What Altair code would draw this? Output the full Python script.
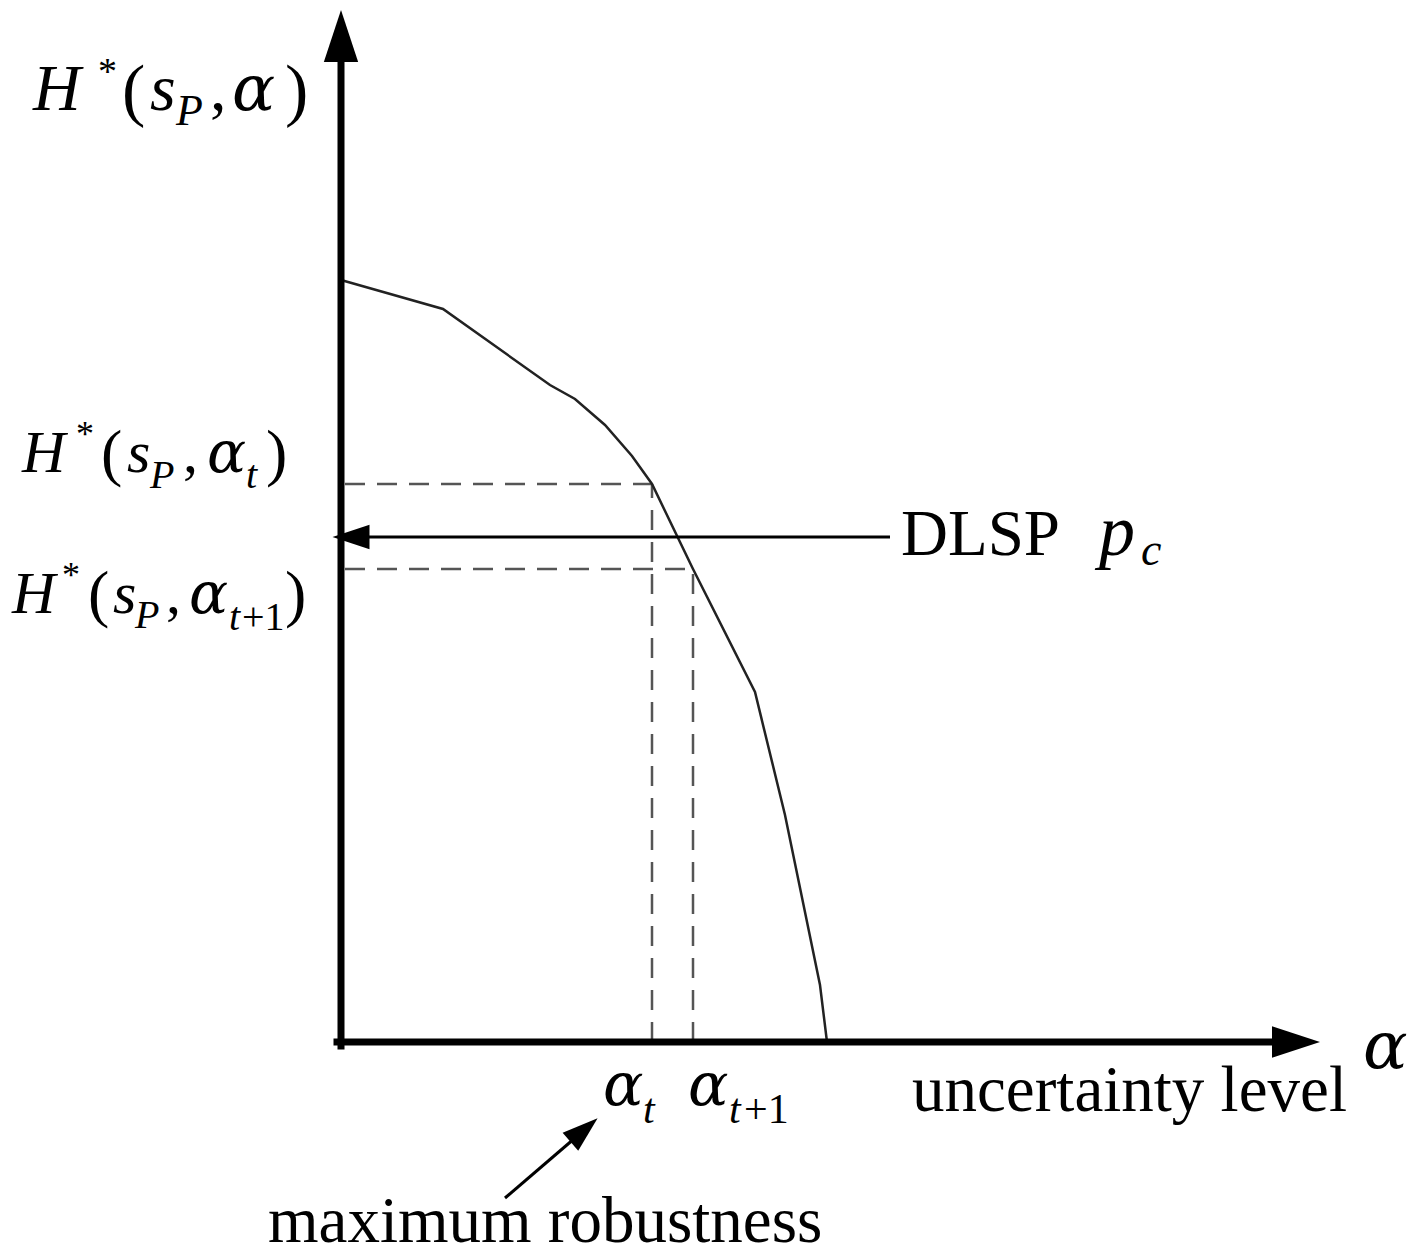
import altair as alt
import pandas as pd

# Robustness curve H*(s_P, alpha) against the uncertainty level alpha
alpha_vals = [0, 102, 209, 234, 264, 291, 311, 352, 414, 444, 479, 486]
h_vals = [762, 733, 657, 643, 617, 586, 558, 473, 350, 227, 57, 0]

# Marked levels
alpha_t = alpha_vals[6]
alpha_t1 = alpha_vals[7]
h_t = h_vals[6]
h_t1 = h_vals[7]
p_c = 505  # DLSP threshold

# Extent of the drawn axes (data units)
x_axis_end = 979
y_axis_end = 1032

X_DOM = [-341, 1083]
Y_DOM = [-214, 1042]
W, H = 1424, 1256

xs = alt.Scale(domain=X_DOM, nice=False, zero=False)
ys = alt.Scale(domain=Y_DOM, nice=False, zero=False)


def X(f):
    return alt.X(f, type="quantitative", scale=xs, axis=None)


def Y(f):
    return alt.Y(f, type="quantitative", scale=ys, axis=None)


curve = pd.DataFrame({"a": alpha_vals, "h": h_vals})

# Axes shafts
axes_df = pd.DataFrame({
    "a": [0, -4], "h": [-4, 0],
    "a2": [0, x_axis_end - 44], "h2": [y_axis_end - 47, 0],
})

# Dashed guides from the curve to both axes
dash_df = pd.DataFrame({
    "a": [4, 4, alpha_t, alpha_t1],
    "h": [h_t, h_t1, 0, 0],
    "a2": [alpha_t, alpha_t1, alpha_t, alpha_t1],
    "h2": [h_t, h_t1, h_t, h_t1],
})

# Thin annotation arrows (shafts)
arrow_df = pd.DataFrame({
    "a": [549, 164], "h": [p_c, -156],
    "a2": [25, 234], "h2": [p_c, -96],
})

# Arrow heads: position, rotation, symbol area
heads_df = pd.DataFrame({
    "a": [0, x_axis_end - 24, -8 + 18, 243],
    "h": [y_axis_end - 26, 0, p_c, -88],
    "ang": [0, 90, 270, 49],
    "sz": [2704, 2304, 1369, 1296],
})

# Greek alpha glyphs
greek_df = pd.DataFrame([
    ("α", -109, 932, 64),   # H*(s_P, alpha)
    ("α", -134, 570, 58),   # H*(s_P, alpha_t)
    ("α", -152, 429, 58),   # H*(s_P, alpha_{t+1})
    ("α", 262, -63, 60),    # alpha_t
    ("α", 347, -63, 60),    # alpha_{t+1}
    ("α", 1022, -26, 66),   # axis symbol
], columns=["text", "a", "h", "size"])

# Italic Latin pieces of the formulas
italic_df = pd.DataFrame([
    ("H", -308, 932, 66), ("s", -191, 932, 66), ("P", -165, 917, 44),
    ("H", -319, 570, 60), ("s", -214, 570, 60), ("P", -191, 554, 40), ("t", -95, 554, 40),
    ("H", -329, 429, 60), ("s", -228, 429, 60), ("P", -206, 414, 40), ("t", -112, 412, 40),
    ("t", 302, -81, 42),
    ("t", 388, -81, 42),
    ("p", 758, 487, 72), ("c", 800, 477, 46),
], columns=["text", "a", "h", "size"])

# Upright pieces and captions
upright_df = pd.DataFrame([
    ("*", -243, 958, 38), ("(", -219, 929, 70), (",", -131, 932, 66), (")", -56, 929, 70),
    ("*", -265, 596, 36), ("(", -240, 568, 64), (",", -158, 570, 60), (")", -75, 568, 64),
    ("*", -279, 455, 36), ("(", -253, 427, 64), (",", -175, 429, 60), ("+1", -99, 412, 40),
    (")", -56, 427, 64),
    ("+1", 403, -81, 42),
    ("uncertainty level", 571, -69, 65),
    ("DLSP", 560, 487, 65),
    ("maximum robustness", -73, -200, 65),
], columns=["text", "a", "h", "size"])

SERIF = "Liberation Serif"
GREEK = "DejaVu Serif"

line = alt.Chart(curve).mark_line(color="#222222", strokeWidth=2.5).encode(
    x=X("a"), y=Y("h"), order="a:Q"
)

axes = alt.Chart(axes_df).mark_rule(color="black", strokeWidth=7, strokeCap="square").encode(
    x=X("a"), y=Y("h"), x2="a2:Q", y2="h2:Q"
)

dashes = alt.Chart(dash_df).mark_rule(
    color="#555555", strokeWidth=2.5, strokeDash=[20, 12]
).encode(x=X("a"), y=Y("h"), x2="a2:Q", y2="h2:Q")

arrows = alt.Chart(arrow_df).mark_rule(color="black", strokeWidth=3).encode(
    x=X("a"), y=Y("h"), x2="a2:Q", y2="h2:Q"
)

heads = alt.Chart(heads_df).mark_point(
    shape="M0,-1L0.66,1L-0.66,1Z", filled=True, color="black", opacity=1, strokeWidth=0
).encode(
    x=X("a"), y=Y("h"),
    angle=alt.Angle("ang:Q", scale=None),
    size=alt.Size("sz:Q", scale=None),
)


def text_layer(df, font, style="normal"):
    return alt.Chart(df).mark_text(
        font=font, fontStyle=style, align="left", baseline="alphabetic", color="black"
    ).encode(x=X("a"), y=Y("h"), text="text:N", size=alt.Size("size:Q", scale=None))


greek_text = text_layer(greek_df, GREEK, "italic")
it_text = text_layer(italic_df, SERIF, "italic")
up_text = text_layer(upright_df, SERIF)

chart = alt.layer(dashes, line, arrows, axes, heads, greek_text, it_text, up_text).properties(
    width=W, height=H,
    autosize=alt.AutoSizeParams(type="none"),
    padding=0,
    background="white",
).configure_view(stroke=None)

chart.save("out.html", embed_options={"renderer": "svg", "actions": False})
